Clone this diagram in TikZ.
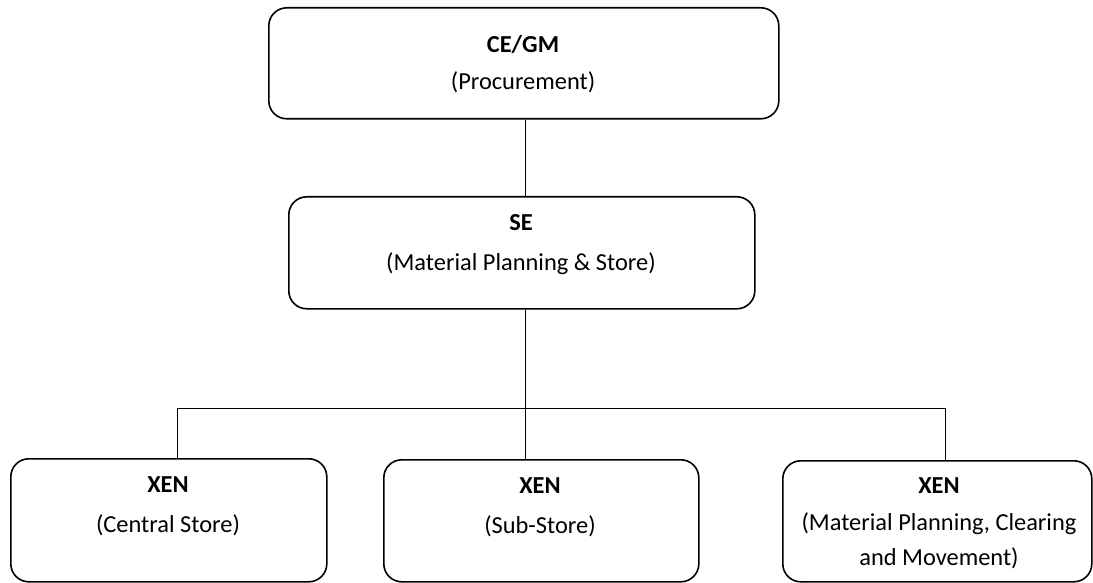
\documentclass[tikz,border=0pt]{standalone}
\usepackage{fontspec}
\setmainfont{Carlito}
\begin{document}
\begin{tikzpicture}[x=1pt,y=-1pt,
  unit/.style={draw=black,line width=1.6pt,rounded corners=18pt,inner sep=0pt,
               minimum width=#1,anchor=north west},
  link/.style={draw=black,line width=1pt},
  head/.style={anchor=base,inner sep=0pt,font=\fontsize{24.4}{30}\selectfont\bfseries},
  sub/.style={anchor=base,inner sep=0pt,font=\fontsize{24.4}{30}\selectfont}]
\useasboundingbox (0,0) rectangle (1093,583);

% boxes
\node[unit=510pt,minimum height=111pt] (ce) at (268,7) {};
\node[unit=466pt,minimum height=112pt] (se) at (288,196) {};
\node[unit=316pt,minimum height=123pt] (x1) at (10,458) {};
\node[unit=315pt,minimum height=122pt] (x2) at (383,459) {};
\node[unit=309pt,minimum height=121pt] (x3) at (782,460) {};

% labels
\node[head] (ceh) at (523,52.5) {CE/GM};
\node[sub]  (ces) at (523,89.5) {(Procurement)};
\node[head] (seh) at (521,230) {SE};
\node[sub]  (ses) at (521,270) {(Material Planning \& Store)};
\node[head] (x1h) at (168,492) {XEN};
\node[sub]  (x1s) at (168,532) {(Central Store)};
\node[head] (x2h) at (540,493) {XEN};
\node[sub]  (x2s) at (540,533) {(Sub-Store)};
\node[head] (x3h) at (939,493) {XEN};
\node[sub]  (x3s) at (939,530) {(Material Planning, Clearing};
\node[sub]  (x3t) at (939,565) {and Movement)};

% connectors
\coordinate (trunk) at (525,408);
\coordinate (busL) at (177,408);
\coordinate (busR) at (945,408);
\draw[link] (ce.south -| trunk) -- (se.north -| trunk);
\draw[link] (se.south -| trunk) -- (trunk);
\draw[link] (busL) -- (busR);
\draw[link] (busL) -- (busL |- x1.north);
\draw[link] (trunk) -- (trunk |- x2.north);
\draw[link] (busR) -- (busR |- x3.north);
\end{tikzpicture}
\end{document}
